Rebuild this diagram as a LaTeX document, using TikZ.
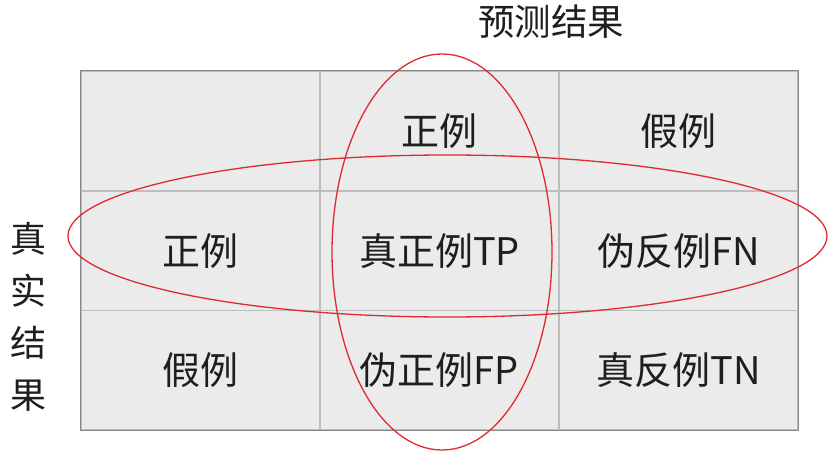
\documentclass[tikz,border=0pt]{standalone}
\usepackage{fontspec}
\newfontfamily\cjk{Noto Sans CJK SC}
\usetikzlibrary{shapes.geometric}
\definecolor{cellfill}{HTML}{EBEBEB}
\definecolor{innerline}{HTML}{BDBDBD}
\definecolor{outerline}{HTML}{858585}
\definecolor{ovalred}{HTML}{E02A30}
\definecolor{txt}{HTML}{1E1E1E}
\tikzset{
  x=1pt, y=-1pt,
  cell/.style={draw=innerline, line width=1.2pt, fill=cellfill, minimum width=239pt, minimum height=119.7pt, inner sep=0pt, text=txt, font=\cjk\fontsize{38}{42}\selectfont},
  lbl/.style={text=txt, inner sep=0pt, font=\cjk\fontsize{36.5}{40}\selectfont},
  oval/.style={draw=ovalred, line width=1.3pt}
}
\begin{document}
\begin{tikzpicture}
\useasboundingbox (0,0) rectangle (829,452);
% cells
\node[cell] (c11) at (200.5,131) {};
\node[cell] (c12) at (439.5,131) {正例};
\node[cell] (c13) at (678.5,131) {假例};
\node[cell] (c21) at (200.5,251) {正例};
\node[cell] (c22) at (439.5,251) {真正例TP};
\node[cell] (c23) at (678.5,251) {伪反例FN};
\node[cell] (c31) at (200.5,370) {假例};
\node[cell] (c32) at (439.5,370) {伪正例FP};
\node[cell] (c33) at (678.5,370) {真反例TN};
\draw[outerline, line width=1.5pt] (c11.north west) rectangle (c33.south east);
% titles
\node[lbl] (pred) at (551,22) {预测结果};
\node[lbl, align=center, font=\cjk\fontsize{36}{52}\selectfont] (real) at (28,317) {真\\实\\结\\果};
% ovals
\draw[oval] (447.5,236) ellipse [x radius=379.5, y radius=81];
\draw[oval] (442,252) ellipse [x radius=110, y radius=198];
\end{tikzpicture}
\end{document}
